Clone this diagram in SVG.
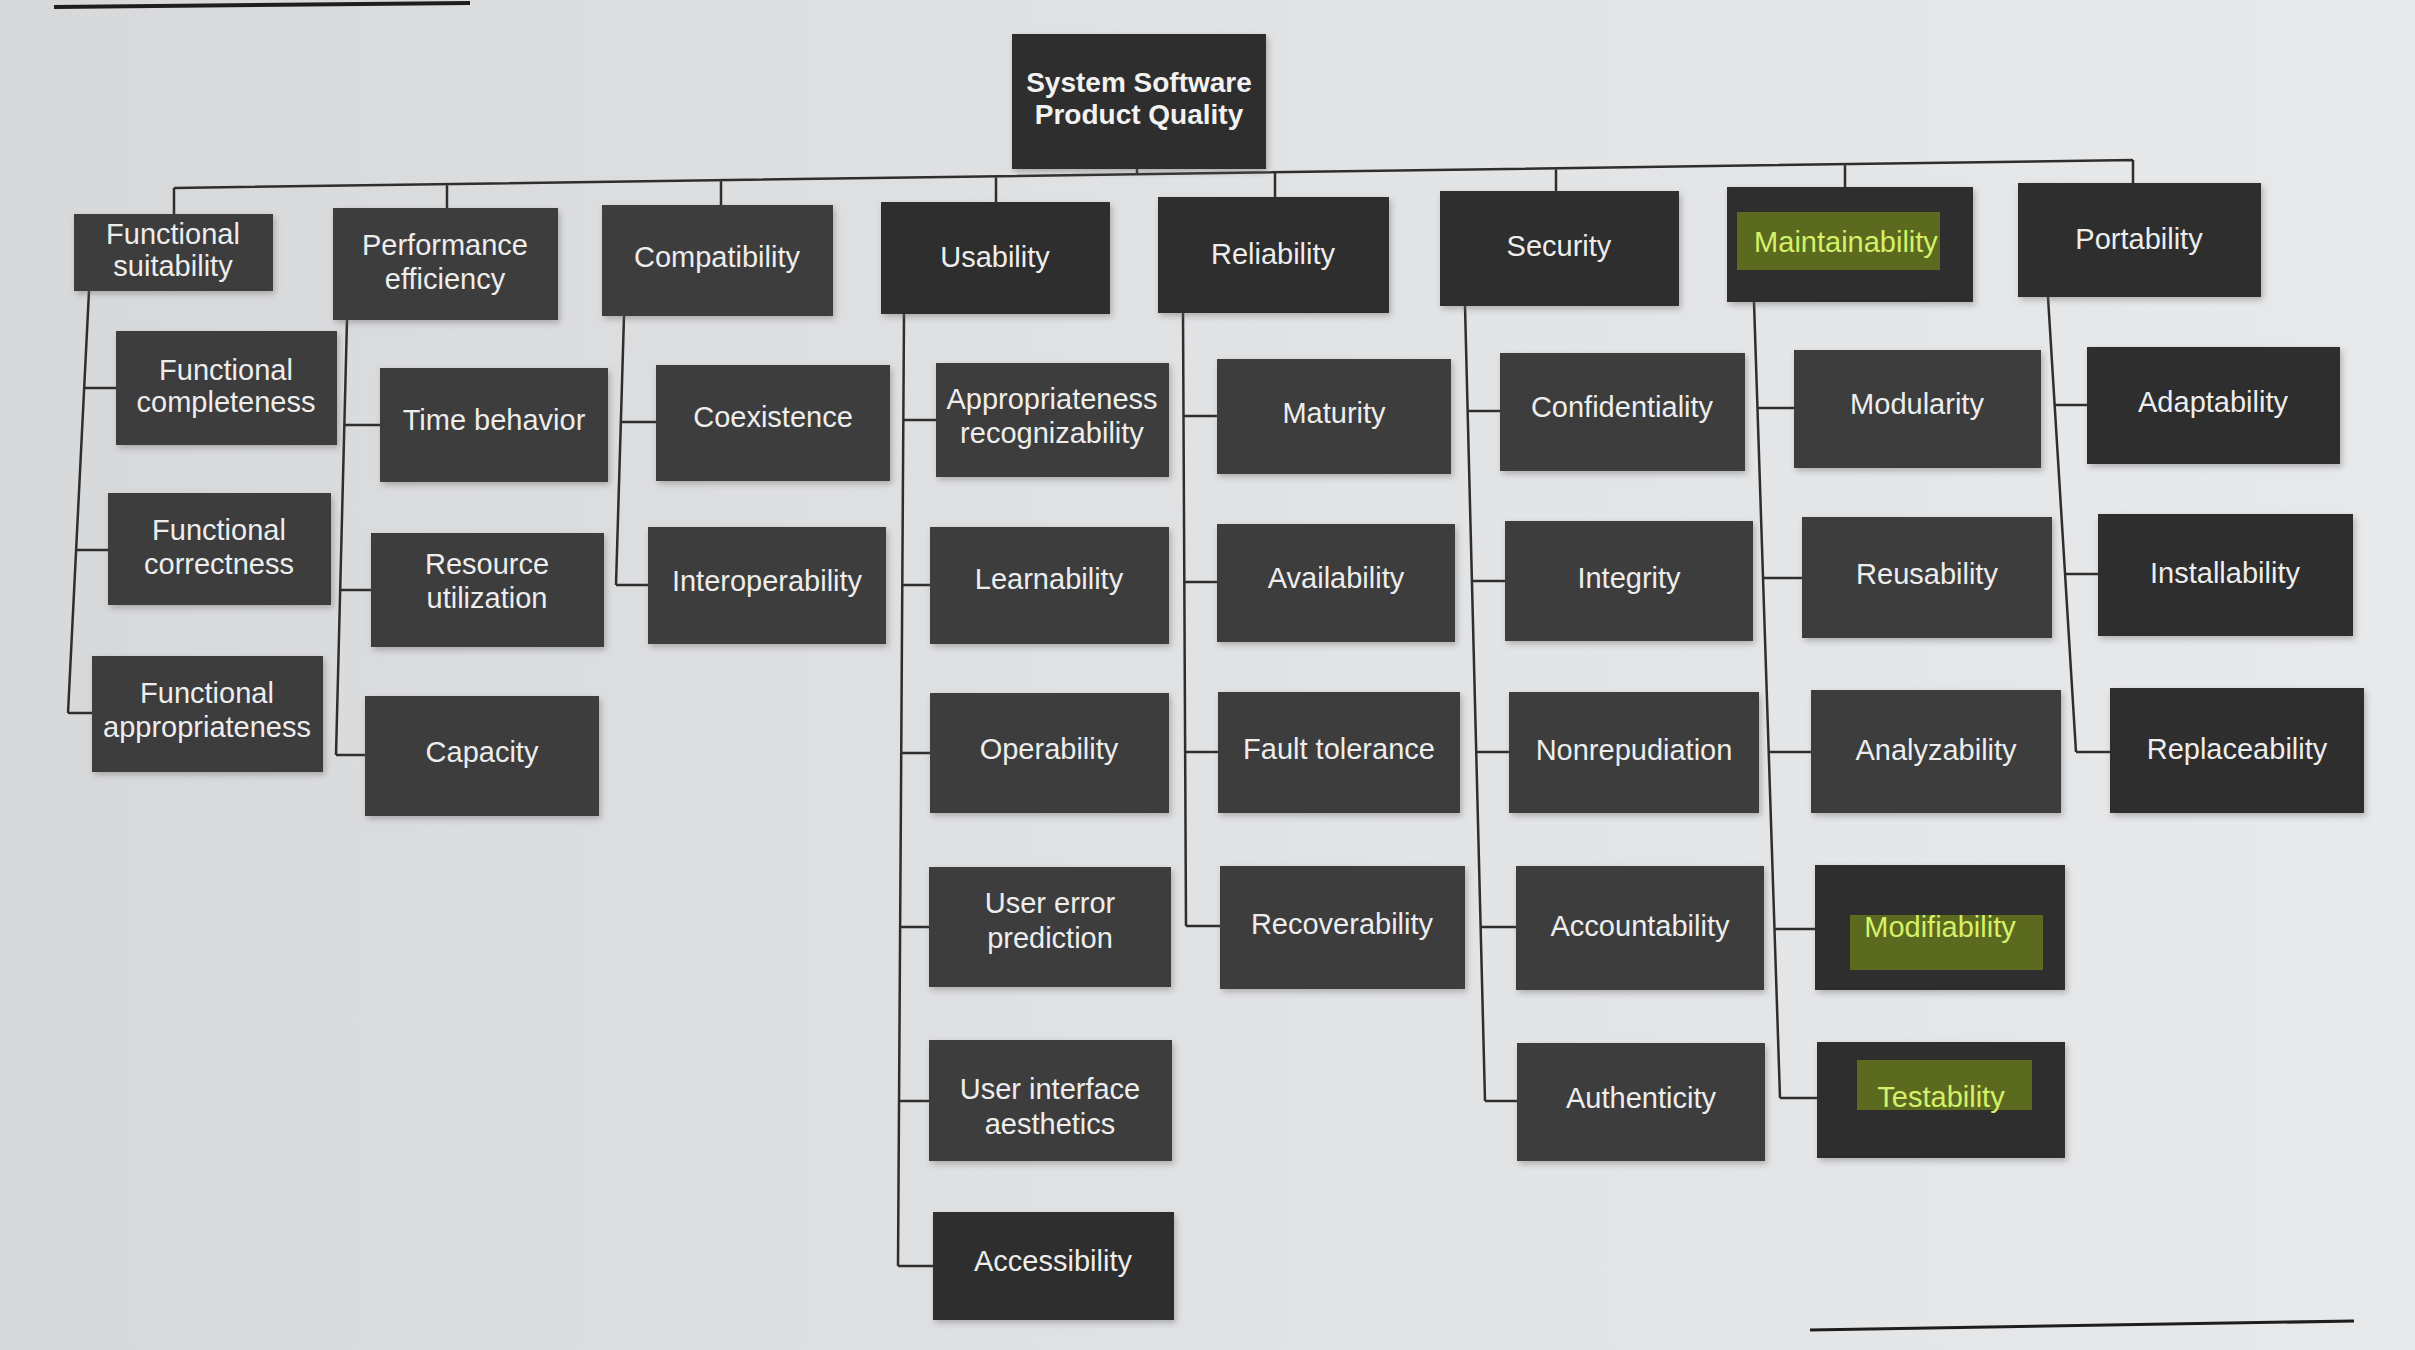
<svg xmlns="http://www.w3.org/2000/svg" width="2415" height="1350" viewBox="0 0 2415 1350">
<defs>
<linearGradient id="bg" x1="0" y1="0" x2="1" y2="0">
<stop offset="0" stop-color="#d7d8da"/>
<stop offset="0.5" stop-color="#e1e2e4"/>
<stop offset="1" stop-color="#e7e9eb"/>
</linearGradient>
<filter id="sh" x="-10%" y="-10%" width="120%" height="125%">
<feDropShadow dx="2" dy="3" stdDeviation="3" flood-color="#6a6a6a" flood-opacity="0.45"/>
</filter>
<style>
.box{fill:#3d3d3d;filter:url(#sh)}
.dark{fill:#2f2f2f}
.t{font-family:"Liberation Sans",Arial,sans-serif;font-size:29px;fill:#ededed;text-anchor:middle}
.root{font-family:"Liberation Sans",Arial,sans-serif;font-size:28px;font-weight:bold;fill:#f2f2f2;text-anchor:middle}
.hl{fill:#5b6a1f}
.ht{fill:#d6f06a}
.c{fill:none;stroke:#2e2e2e;stroke-width:2.5}
.page{stroke:#1e1e1e;fill:none}
</style>
</defs>
<rect x="0" y="0" width="2415" height="1350" fill="url(#bg)"/>
<line class="page" x1="54" y1="7" x2="470" y2="3" stroke-width="4"/>
<line class="page" x1="1810" y1="1330" x2="2354" y2="1321" stroke-width="3"/>

<g id="connectors">
<path class="c" d="M1137 169 V175 M174 188 L2133 160 M174 188 V214 M447 184 V208 M721 180 V205 M996 176 V202 M1275 172 V197 M1556 168 V191 M1845 164 V187 M2133 160 V183"/>
<path class="c" d="M89 291 L68 713 M84 388 H116 M76 550 H108 M68 713 H92"/>
<path class="c" d="M347 320 L336 755 M344 425 H380 M340 590 H371 M336 755 H365"/>
<path class="c" d="M624 316 L616 585 M621 422 H656 M616 585 H648"/>
<path class="c" d="M904 314 L898 1266 M903 420 H936 M902 585 H930 M901 753 H930 M900 927 H929 M899 1101 H929 M898 1266 H933"/>
<path class="c" d="M1183 313 L1186 926 M1183 416 H1217 M1184 582 H1217 M1185 752 H1218 M1186 926 H1220"/>
<path class="c" d="M1465 306 L1485 1101 M1468 411 H1500 M1472 581 H1505 M1476 752 H1509 M1481 927 H1516 M1485 1101 H1517"/>
<path class="c" d="M1754 302 L1780 1098 M1757 408 H1794 M1763 578 H1802 M1769 752 H1811 M1774 929 H1815 M1780 1098 H1817"/>
<path class="c" d="M2048 297 L2076 752 M2055 405 H2087 M2065 574 H2098 M2076 752 H2110"/>
</g>

<g id="root"><rect class="box dark" x="1012" y="34" width="254" height="135"/><text class="root" x="1139" y="92">System Software</text><text class="root" x="1139" y="124">Product Quality</text></g>

<g id="functional-suitability"><rect class="box" x="74" y="214" width="199" height="77"/><text class="t" x="173" y="244">Functional</text><text class="t" x="173" y="276">suitability</text></g>
<g id="performance-efficiency"><rect class="box" x="333" y="208" width="225" height="112"/><text class="t" x="445" y="255">Performance</text><text class="t" x="445" y="289">efficiency</text></g>
<g id="compatibility"><rect class="box" x="602" y="205" width="231" height="111"/><text class="t" x="717" y="267">Compatibility</text></g>
<g id="usability"><rect class="box dark" x="881" y="202" width="229" height="112"/><text class="t" x="995" y="267">Usability</text></g>
<g id="reliability"><rect class="box dark" x="1158" y="197" width="231" height="116"/><text class="t" x="1273" y="264">Reliability</text></g>
<g id="security"><rect class="box dark" x="1440" y="191" width="239" height="115"/><text class="t" x="1559" y="256">Security</text></g>
<g id="maintainability"><rect class="box dark" x="1727" y="187" width="246" height="115"/><rect class="hl" x="1737" y="212" width="203" height="58"/><text class="t ht" x="1846" y="252">Maintainability</text></g>
<g id="portability"><rect class="box dark" x="2018" y="183" width="243" height="114"/><text class="t" x="2139" y="249">Portability</text></g>

<g id="functional-completeness"><rect class="box" x="116" y="331" width="221" height="114"/><text class="t" x="226" y="380">Functional</text><text class="t" x="226" y="412">completeness</text></g>
<g id="functional-correctness"><rect class="box" x="108" y="493" width="223" height="112"/><text class="t" x="219" y="540">Functional</text><text class="t" x="219" y="574">correctness</text></g>
<g id="functional-appropriateness"><rect class="box" x="92" y="656" width="231" height="116"/><text class="t" x="207" y="703">Functional</text><text class="t" x="207" y="737">appropriateness</text></g>

<g id="time-behavior"><rect class="box" x="380" y="368" width="228" height="114"/><text class="t" x="494" y="430">Time behavior</text></g>
<g id="resource-utilization"><rect class="box" x="371" y="533" width="233" height="114"/><text class="t" x="487" y="574">Resource</text><text class="t" x="487" y="608">utilization</text></g>
<g id="capacity"><rect class="box" x="365" y="696" width="234" height="120"/><text class="t" x="482" y="762">Capacity</text></g>

<g id="coexistence"><rect class="box" x="656" y="365" width="234" height="116"/><text class="t" x="773" y="427">Coexistence</text></g>
<g id="interoperability"><rect class="box" x="648" y="527" width="238" height="117"/><text class="t" x="767" y="591">Interoperability</text></g>

<g id="appropriateness-recognizability"><rect class="box" x="936" y="363" width="233" height="114"/><text class="t" x="1052" y="409">Appropriateness</text><text class="t" x="1052" y="443">recognizability</text></g>
<g id="learnability"><rect class="box" x="930" y="527" width="239" height="117"/><text class="t" x="1049" y="589">Learnability</text></g>
<g id="operability"><rect class="box" x="930" y="693" width="239" height="120"/><text class="t" x="1049" y="759">Operability</text></g>
<g id="user-error-prediction"><rect class="box" x="929" y="867" width="242" height="120"/><text class="t" x="1050" y="913">User error</text><text class="t" x="1050" y="948">prediction</text></g>
<g id="user-interface-aesthetics"><rect class="box" x="929" y="1040" width="243" height="121"/><text class="t" x="1050" y="1099">User interface</text><text class="t" x="1050" y="1134">aesthetics</text></g>
<g id="accessibility"><rect class="box dark" x="933" y="1212" width="241" height="108"/><text class="t" x="1053" y="1271">Accessibility</text></g>

<g id="maturity"><rect class="box" x="1217" y="359" width="234" height="115"/><text class="t" x="1334" y="423">Maturity</text></g>
<g id="availability"><rect class="box" x="1217" y="524" width="238" height="118"/><text class="t" x="1336" y="588">Availability</text></g>
<g id="fault-tolerance"><rect class="box" x="1218" y="692" width="242" height="121"/><text class="t" x="1339" y="759">Fault tolerance</text></g>
<g id="recoverability"><rect class="box" x="1220" y="866" width="245" height="123"/><text class="t" x="1342" y="934">Recoverability</text></g>

<g id="confidentiality"><rect class="box" x="1500" y="353" width="245" height="118"/><text class="t" x="1622" y="417">Confidentiality</text></g>
<g id="integrity"><rect class="box" x="1505" y="521" width="248" height="120"/><text class="t" x="1629" y="588">Integrity</text></g>
<g id="nonrepudiation"><rect class="box" x="1509" y="692" width="250" height="121"/><text class="t" x="1634" y="760">Nonrepudiation</text></g>
<g id="accountability"><rect class="box" x="1516" y="866" width="248" height="124"/><text class="t" x="1640" y="936">Accountability</text></g>
<g id="authenticity"><rect class="box" x="1517" y="1043" width="248" height="118"/><text class="t" x="1641" y="1108">Authenticity</text></g>

<g id="modularity"><rect class="box" x="1794" y="350" width="247" height="118"/><text class="t" x="1917" y="414">Modularity</text></g>
<g id="reusability"><rect class="box" x="1802" y="517" width="250" height="121"/><text class="t" x="1927" y="584">Reusability</text></g>
<g id="analyzability"><rect class="box" x="1811" y="690" width="250" height="123"/><text class="t" x="1936" y="760">Analyzability</text></g>
<g id="modifiability"><rect class="box dark" x="1815" y="865" width="250" height="125"/><rect class="hl" x="1850" y="915" width="193" height="55"/><text class="t ht" x="1940" y="937">Modifiability</text></g>
<g id="testability"><rect class="box dark" x="1817" y="1042" width="248" height="116"/><rect class="hl" x="1857" y="1060" width="175" height="50"/><text class="t ht" x="1941" y="1107">Testability</text></g>

<g id="adaptability"><rect class="box dark" x="2087" y="347" width="253" height="117"/><text class="t" x="2213" y="412">Adaptability</text></g>
<g id="installability"><rect class="box dark" x="2098" y="514" width="255" height="122"/><text class="t" x="2225" y="583">Installability</text></g>
<g id="replaceability"><rect class="box dark" x="2110" y="688" width="254" height="125"/><text class="t" x="2237" y="759">Replaceability</text></g>
</svg>
